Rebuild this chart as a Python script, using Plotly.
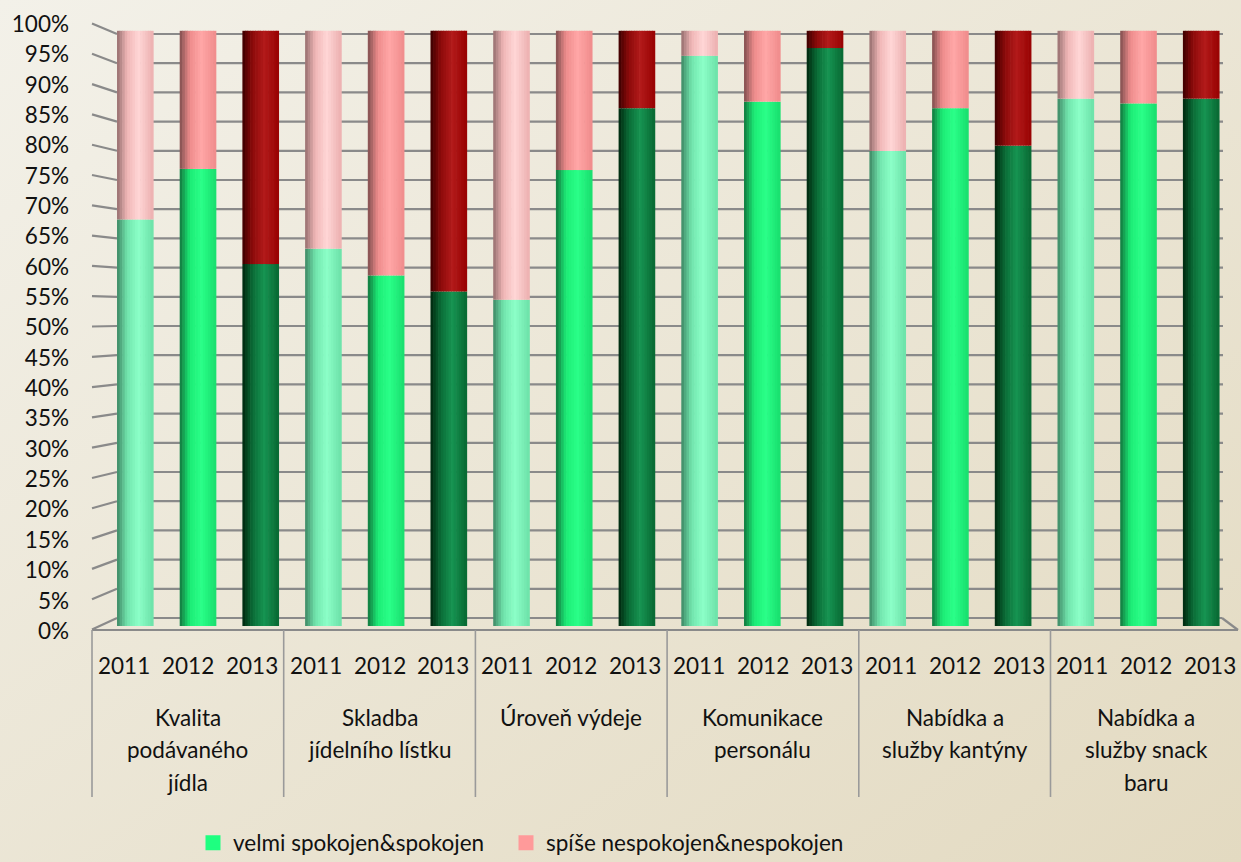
import base64
import plotly.graph_objects as go

# ---------------- data ----------------
group_lines = [
    ["Kvalita", "podávaného", "jídla"],
    ["Skladba", "jídelního lístku"],
    ["Úroveň výdeje"],
    ["Komunikace", "personálu"],
    ["Nabídka a", "služby kantýny"],
    ["Nabídka a", "služby snack", "baru"],
]
years = ["2011", "2012", "2013"]
series_names = ["velmi spokojen&spokojen", "spíše nespokojen&nespokojen"]
# one value per (group, year), ordered group by group, 2011..2013
satisfied = [68.3, 76.8, 60.8, 63.4, 58.9, 56.2, 54.8, 76.6, 87.0,
             95.8, 88.1, 97.1, 79.8, 87.0, 80.7, 88.6, 87.8, 88.6]
dissatisfied = [31.7, 23.2, 39.2, 36.6, 41.1, 43.8, 45.2, 23.4, 13.0,
                4.2, 11.9, 2.9, 20.2, 13.0, 19.3, 11.4, 12.2, 11.4]
y_tick_values = list(range(0, 101, 5))

# ---------------- styling ----------------
FONT = "Lato"
FS = 22.5
W, H = 1241, 862
PL, PR, PT, PB = 92, 1235, 10, 635          # plot area in pixels
BAR_X0, BAR_DX = 135.0, 62.7                 # bar centre pixel positions
Y0_PX, Y_PX_PER = 626.0, 5.952               # value 0 pixel, pixels per %
FRONT_X0, FRONT_DX = 92.0, 63.9              # front (category axis) scale

def xd(px):
    return (px - BAR_X0) / BAR_DX

def yd(py):
    return (Y0_PX - py) / Y_PX_PER

def xp(px):
    return (px - PL) / (PR - PL)

def yp(py):
    return (PB - py) / (PB - PT)

# cylinder shading profiles per year: (t, rgb) anchors across the bar width
green_prof = {
    "2011": [(0, (62, 135, 100)), (0.28, (112, 228, 172)), (0.6, (140, 255, 200)), (1, (108, 225, 168))],
    "2012": [(0, (18, 118, 62)), (0.28, (28, 236, 118)), (0.6, (42, 255, 136)), (1, (24, 222, 110))],
    "2013": [(0, (0, 38, 14)), (0.28, (10, 108, 54)), (0.6, (22, 148, 82)), (1, (8, 104, 50))],
}
red_prof = {
    "2011": [(0, (150, 110, 110)), (0.28, (240, 182, 182)), (0.6, (255, 214, 214)), (1, (236, 176, 176))],
    "2012": [(0, (128, 78, 78)), (0.28, (238, 140, 140)), (0.6, (255, 166, 166)), (1, (240, 140, 140))],
    "2013": [(0, (60, 0, 0)), (0.28, (140, 10, 10)), (0.6, (178, 26, 26)), (1, (152, 2, 2))],
}

def interp(prof, t):
    for (t0, c0), (t1, c1) in zip(prof[:-1], prof[1:]):
        if t0 <= t <= t1:
            f = (t - t0) / (t1 - t0)
            c = [round(a + (b - a) * f) for a, b in zip(c0, c1)]
            return "rgb(%d,%d,%d)" % tuple(c)
    return "rgb(%d,%d,%d)" % prof[-1][1]

n_groups = len(group_lines)
n_bars = n_groups * len(years)
xs = list(range(n_bars))
bar_years = [years[i % 3] for i in xs]
green_pct = [s / (s + d) * 100 for s, d in zip(satisfied, dissatisfied)]
red_pct = [d / (s + d) * 100 for s, d in zip(satisfied, dissatisfied)]

fig = go.Figure()

BAR_W = 36.0 / BAR_DX
N = 14
sw = BAR_W / N
for k in range(N):
    t = (k + 0.5) / N
    off = -BAR_W / 2 + k * sw
    fig.add_trace(go.Bar(
        x=xs, y=green_pct, base=[0] * n_bars, width=sw * 1.25, offset=off,
        marker=dict(color=[interp(green_prof[y], t) for y in bar_years], line=dict(width=0)),
        showlegend=False, hoverinfo="skip"))
    fig.add_trace(go.Bar(
        x=xs, y=red_pct, base=green_pct, width=sw * 1.25, offset=off,
        marker=dict(color=[interp(red_prof[y], t) for y in bar_years], line=dict(width=0)),
        showlegend=False, hoverinfo="skip"))

# legend entries (two legends so their spacing matches the reference)
fig.add_trace(go.Bar(x=[None], y=[None], name=series_names[0], legend="legend",
                     marker=dict(color="#1EFF80", line=dict(color="#1EFF80", width=3))))
fig.add_trace(go.Bar(x=[None], y=[None], name=series_names[1], legend="legend2",
                     marker=dict(color="#FF9A9A", line=dict(color="#FF9A9A", width=3))))

# ---------------- 3D frame / gridlines ----------------
shapes = []
GRID = "#8A8A8A"
for v in y_tick_values:
    yb = 618 - 5.84 * v
    yf = 629.5 - 6.06 * v
    if v > 0:
        shapes.append(dict(type="line", xref="paper", yref="paper", layer="below",
                           x0=xp(117), x1=xp(1223), y0=yp(yb), y1=yp(yb),
                           line=dict(color=GRID, width=2.2)))
    shapes.append(dict(type="line", xref="paper", yref="paper", layer="below",
                       x0=xp(92), x1=xp(117), y0=yp(yf), y1=yp(yb),
                       line=dict(color=GRID, width=2.2)))
# floor
shapes.append(dict(type="line", xref="paper", yref="paper", layer="below",
                   x0=xp(117), x1=xp(1222), y0=yp(618), y1=yp(618), line=dict(color=GRID, width=2.2)))
shapes.append(dict(type="line", xref="paper", yref="paper", layer="above",
                   x0=xp(92), x1=xp(1238), y0=yp(630), y1=yp(630), line=dict(color=GRID, width=2.2)))
shapes.append(dict(type="line", xref="paper", yref="paper", layer="below",
                   x0=xp(1222), x1=xp(1238), y0=yp(618), y1=yp(630), line=dict(color=GRID, width=2.2)))
# category separators
for g in range(n_groups):
    xs_px = FRONT_X0 + 3 * FRONT_DX * g
    shapes.append(dict(type="line", xref="paper", yref="paper", layer="above",
                       x0=xp(xs_px), x1=xp(xs_px), y0=yp(630), y1=yp(797),
                       line=dict(color="#9A9A9A", width=1.6)))

# ---------------- category labels ----------------
annotations = []
for i in xs:
    cx = FRONT_X0 + FRONT_DX * (i + 0.5)
    annotations.append(dict(x=xd(cx), xref="x", y=yp(665), yref="paper", text=bar_years[i],
                            showarrow=False, xanchor="center", yanchor="middle",
                            font=dict(family=FONT, size=FS, color="#111111")))
for g, lines in enumerate(group_lines):
    cx = FRONT_X0 + 3 * FRONT_DX * (g + 0.5)
    for j, line in enumerate(lines):
        annotations.append(dict(x=xd(cx), xref="x", y=yp(717 + 32.5 * j), yref="paper", text=line,
                                showarrow=False, xanchor="center", yanchor="middle",
                                font=dict(family=FONT, size=FS, color="#111111")))

# ---------------- background gradient ----------------
svg = ('<svg xmlns="http://www.w3.org/2000/svg" width="%d" height="%d">'
       '<defs><linearGradient id="g" x1="0" y1="0" x2="1" y2="1">'
       '<stop offset="0" stop-color="#F3F1E9"/><stop offset="1" stop-color="#E3DAC1"/>'
       '</linearGradient></defs><rect width="100%%" height="100%%" fill="url(#g)"/></svg>') % (W, H)
bg_src = "data:image/svg+xml;base64," + base64.b64encode(svg.encode()).decode()

tick_px = [631 - 6.07 * v for v in y_tick_values]

legend_common = dict(orientation="h", xanchor="left", y=yp(843), yanchor="middle",
                     font=dict(family=FONT, size=FS, color="#111111"),
                     bgcolor="rgba(0,0,0,0)", itemwidth=30)

fig.update_layout(
    width=W, height=H,
    margin=dict(l=PL, r=W - PR, t=PT, b=H - PB, pad=0, autoexpand=False),
    barmode="overlay",
    paper_bgcolor="#ECE7D7",
    plot_bgcolor="rgba(0,0,0,0)",
    font=dict(family=FONT, size=FS, color="#111111"),
    xaxis=dict(range=[xd(PL), xd(PR)], showticklabels=False, showgrid=False,
               zeroline=False, showline=False, ticks="", fixedrange=True, automargin=False),
    yaxis=dict(range=[yd(PB), yd(PT)], tickmode="array",
               tickvals=[yd(p) for p in tick_px],
               ticktext=["%d%%" % v for v in y_tick_values],
               showgrid=False, zeroline=False, showline=False, ticks="", fixedrange=True,
               automargin=False,
               ticklabelstandoff=22, tickfont=dict(family=FONT, size=FS, color="#111111")),
    legend=dict(x=xp(193), **legend_common),
    legend2=dict(x=xp(506), **legend_common),
    shapes=shapes,
    annotations=annotations,
    images=[dict(source=bg_src, xref="paper", yref="paper",
                 x=-PL / (PR - PL), y=1 + PT / (PB - PT),
                 sizex=W / (PR - PL), sizey=H / (PB - PT),
                 sizing="stretch", xanchor="left", yanchor="top", layer="below")],
    showlegend=True,
)

fig.write_html("out.html", config={"displayModeBar": False},
               post_script="document.body.style.margin='0px';document.body.style.overflow='hidden';")
